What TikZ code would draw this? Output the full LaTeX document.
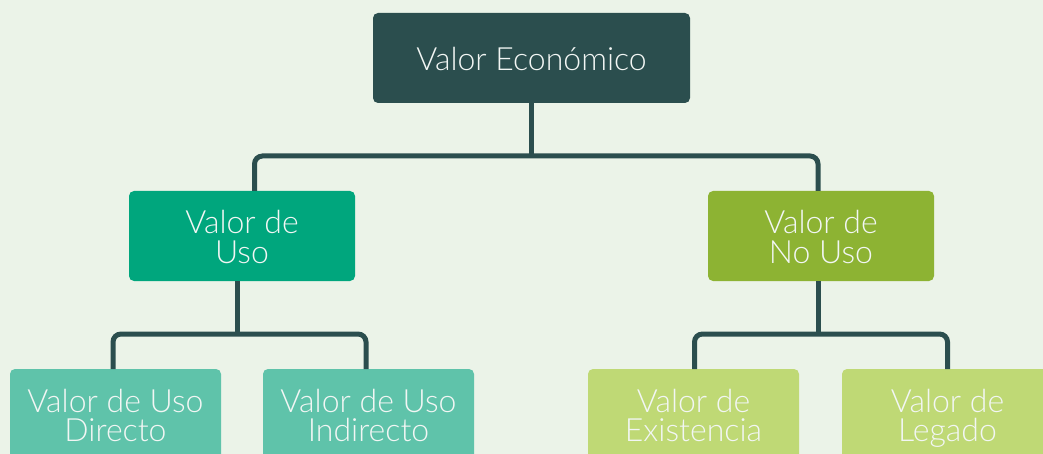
\documentclass[tikz,border=0pt]{standalone}
\usepackage{fontspec}
\IfFontExistsTF{Lato Light}{\setmainfont{Lato Light}}{\setmainfont{Lato}}
\definecolor{bgc}{HTML}{EBF3E8}
\definecolor{topc}{HTML}{2B4E4E}
\definecolor{linec}{HTML}{2B4E4E}
\definecolor{usoc}{HTML}{00A67D}
\definecolor{nousoc}{HTML}{8DB333}
\definecolor{dirc}{HTML}{5FC3AA}
\definecolor{exic}{HTML}{BFD975}
\definecolor{txtc}{HTML}{F2F6F4}
\begin{document}
\begin{tikzpicture}[x=1pt,y=-1pt,
  box/.style={rounded corners=5pt, inner sep=0pt, outer sep=0pt,
    minimum height=90pt},
  lbl/.style={inner sep=0pt, outer sep=0pt, text=txtc, align=center,
    anchor=base, font=\fontsize{32}{29}\selectfont},
  conn/.style={draw=linec, line width=5pt, rounded corners=8pt}]
\fill[bgc] (0,0) rectangle (1043,454);
\useasboundingbox (0,0) rectangle (1043,454);
\node[box, fill=topc, minimum width=317pt] (top) at (531.5,58) {};
\node[box, fill=usoc, minimum width=226pt] (uso) at (242,236) {};
\node[box, fill=nousoc, minimum width=226pt] (nouso) at (821,236) {};
\node[box, fill=dirc, minimum width=211pt] (dir) at (115.5,414) {};
\node[box, fill=dirc, minimum width=211pt] (ind) at (368.5,414) {};
\node[box, fill=exic, minimum width=211pt] (exi) at (693.5,414) {};
\node[box, fill=exic, minimum width=211pt] (leg) at (947.5,414) {};
\node[lbl] (topt) at ([yshift=-13pt]top.center) {Valor Económico};
\node[lbl] (usot) at ([yshift=-27pt]uso.center) {Valor de\\Uso};
\node[lbl] (nousot) at ([yshift=-27pt]nouso.center) {Valor de\\No Uso};
\node[lbl] (dirt) at ([yshift=-27pt]dir.center) {Valor de Uso\\Directo};
\node[lbl] (indt) at ([yshift=-27pt]ind.center) {Valor de Uso\\Indirecto};
\node[lbl] (exit) at ([yshift=-27pt]exi.center) {Valor de\\Existencia};
\node[lbl] (legt) at ([yshift=-27pt]leg.center) {Valor de\\Legado};
\draw[conn] (top.south) -- ++(0,53) coordinate (j1);
\draw[conn] ([xshift=12.5pt]uso.north) |- (j1) -| ([xshift=-3pt]nouso.north);
\draw[conn] ([xshift=-5pt]uso.south) -- ++(0,53) coordinate (j2);
\draw[conn] ([xshift=-2.5pt]dir.north) |- (j2) -| ([xshift=-2.5pt]ind.north);
\draw[conn] ([xshift=-3pt]nouso.south) -- ++(0,53) coordinate (j3);
\draw[conn] ([xshift=1pt]exi.north) |- (j3) -| (leg.north);
\end{tikzpicture}
\end{document}
